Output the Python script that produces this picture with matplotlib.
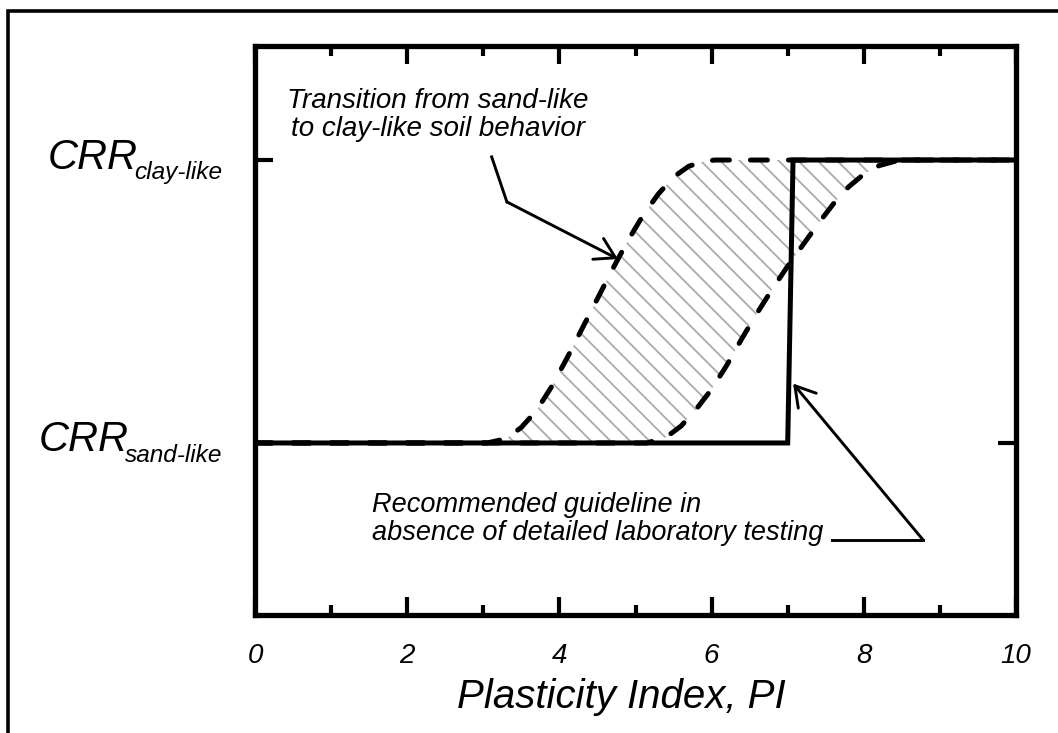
import numpy as np
import matplotlib
matplotlib.use("Agg")
import matplotlib.pyplot as plt
from matplotlib.lines import Line2D
from matplotlib.patches import Polygon

plt.rcParams['font.family'] = ['Liberation Sans', 'DejaVu Sans']

# ---- data -------------------------------------------------------------
# Recommended guideline: step from CRR_sand-like to CRR_clay-like near PI = 7
pi_guide = [0.0, 7.0, 7.07, 10.0]
crr_guide = [1.0, 1.0, 2.0, 2.0]

# Lower (left) bound of the sand-like -> clay-like transition
pi_left = [0.0, 3.05, 3.30, 3.50, 3.70, 3.90, 4.10, 4.30, 4.50, 4.70,
           4.90, 5.10, 5.30, 5.50, 5.70, 5.90, 6.05, 10.0]
crr_left = [1.0, 1.000, 1.015, 1.055, 1.115, 1.200, 1.300, 1.405, 1.510, 1.615,
            1.715, 1.805, 1.880, 1.940, 1.978, 1.996, 2.0, 2.0]

# Upper (right) bound of the transition
pi_right = [0.0, 5.15, 5.40, 5.60, 5.80, 6.00, 6.20, 6.40, 6.60, 6.80,
            7.00, 7.20, 7.40, 7.60, 7.80, 8.00, 8.20, 8.40, 8.60, 10.0]
crr_right = [1.0, 1.000, 1.020, 1.060, 1.120, 1.190, 1.275, 1.370, 1.460, 1.545,
             1.625, 1.700, 1.775, 1.845, 1.905, 1.950, 1.980, 1.995, 2.0, 2.0]

x_ticks = [0, 2, 4, 6, 8, 10]
x_minor = [1, 3, 5, 7, 9]
y_ticks = [1.0, 2.0]
y_labels = ['sand-like', 'clay-like']
x_title = 'Plasticity Index, PI'

note_transition = ['Transition from sand-like', 'to clay-like soil behavior']
note_guideline = ['Recommended guideline in', 'absence of detailed laboratory testing']

# ---- figure -----------------------------------------------------------
W, H = 1058, 733
fig = plt.figure(figsize=(W / 100, H / 100), dpi=100)
ax_l, ax_r, ax_t, ax_b = 255, 1016, 46, 615
ax = fig.add_axes([ax_l / W, 1 - ax_b / H, (ax_r - ax_l) / W, (ax_b - ax_t) / H])

ax.set_xlim(0, 10)
ax.set_ylim(0.392, 2.403)

# outer frame of the drawing
fig.add_artist(Line2D([8 / W, 8 / W, 1.05], [-0.05, 1 - 11 / H, 1 - 11 / H],
                      transform=fig.transFigure, color='black', lw=2.6,
                      solid_joinstyle='miter', clip_on=False))

# hatched transition band between the two bounds
band_x = pi_left[1:-1] + pi_right[-2:0:-1]
band_y = crr_left[1:-1] + crr_right[-2:0:-1]
band = Polygon(np.column_stack([band_x, band_y]), closed=True,
               facecolor='none', edgecolor='none')
ax.add_patch(band)
axw, axh = ax_r - ax_l, ax_b - ax_t
step = 19.5 / axw
for x0 in np.arange(-1.0, 1.2, step):
    ln, = ax.plot([x0, x0 + axh / axw], [1, 0], transform=ax.transAxes,
                  color='#ababab', lw=1.3, zorder=1)
    ln.set_clip_path(band)

dash = (0, (3.4, 4.2))
ax.plot(pi_left, crr_left, color='black', lw=3.6, linestyle=dash,
        dash_capstyle='round', zorder=2)
ax.plot(pi_right, crr_right, color='black', lw=3.6, linestyle=dash,
        dash_capstyle='round', zorder=2)
ax.plot(pi_guide, crr_guide, color='black', lw=3.6, zorder=3,
        solid_joinstyle='miter')

# ---- axes styling -----------------------------------------------------
for s in ax.spines.values():
    s.set_linewidth(3.8)
ax.set_xticks(x_ticks)
ax.set_xticks(x_minor, minor=True)
ax.set_xticklabels([str(v) for v in x_ticks], fontsize=20, style='italic')
ax.set_yticks(y_ticks)
ax.set_yticklabels([])
ax.tick_params(axis='both', which='major', direction='in', length=13, width=3,
               top=True, right=True, pad=20)
ax.tick_params(axis='x', which='minor', direction='in', length=7, width=3,
               top=True, bottom=True)
ax.tick_params(axis='y', which='minor', left=False, right=False)

ax.set_xlabel(x_title, fontsize=29, style='italic')
ax.xaxis.set_label_coords((621 - ax_l) / axw, (ax_b - 708) / axh)
ax.xaxis.label.set_va('baseline')

# ---- y labels: CRR with subscript -------------------------------------
ytr = ax.get_yaxis_transform()
fig.canvas.draw()
for yv, lab in zip(y_ticks, y_labels):
    sub = ax.annotate(lab, xy=((222 - ax_l) / axw, yv), xycoords=ytr,
                      xytext=(0, -19 * 0.72), textcoords='offset points',
                      ha='right', va='baseline', fontsize=17.6, style='italic')
    fig.canvas.draw()
    bb = sub.get_window_extent()
    ydisp = ax.transData.transform((0, yv))[1] - 8.5
    fig.text(bb.x0 + 4, ydisp, 'CRR', transform=None, ha='right',
             va='baseline', fontsize=30, style='italic')

# ---- annotations ------------------------------------------------------
def px2x(px):
    return (px - ax_l) / 76.1


def py2y(py):
    return 1 + (443 - py) / 283.0


ax.text(px2x(438), py2y(108), note_transition[0], ha='center', va='baseline',
        fontsize=20, style='italic')
ax.text(px2x(438), py2y(136), note_transition[1], ha='center', va='baseline',
        fontsize=20, style='italic')
ax.text(px2x(372), py2y(512), note_guideline[0], ha='left', va='baseline',
        fontsize=19.5, style='italic')
ax.text(px2x(372), py2y(540), note_guideline[1], ha='left', va='baseline',
        fontsize=19.5, style='italic')

aprops = dict(arrowstyle='->,head_length=0.7,head_width=0.42', lw=2.1,
              color='black', shrinkA=0, shrinkB=0, mutation_scale=20)
ax.plot([3.11, 3.31], [2.011, 1.852], color='black', lw=2.1)
ax.annotate('', xy=(4.77, 1.650), xytext=(3.31, 1.852), arrowprops=aprops)
ax.plot([7.58, 8.78], [0.657, 0.657], color='black', lw=2.1)
ax.annotate('', xy=(7.07, 1.21), xytext=(8.78, 0.657), arrowprops=aprops)

fig.savefig('out.png', dpi=100)
